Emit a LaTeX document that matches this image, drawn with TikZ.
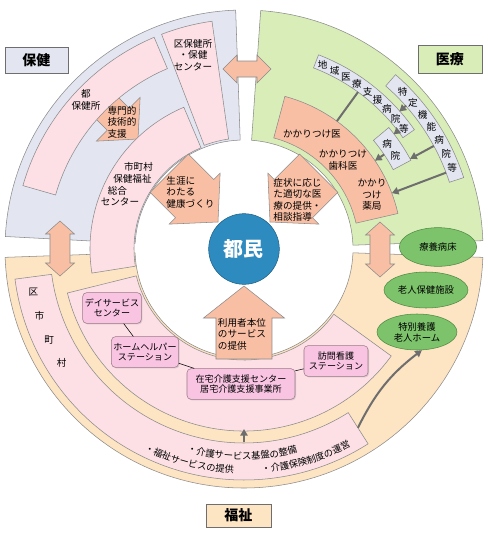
\documentclass[tikz,border=0pt]{standalone}
\usepackage{fontspec}
\setmainfont{Noto Sans CJK JP}
\usetikzlibrary{shapes.geometric,arrows.meta,shadows,decorations.text}
\definecolor{hokenbg}{HTML}{E3E6F1}
\definecolor{iryobg}{HTML}{D9EDB8}
\definecolor{fukushibg}{HTML}{FDE4C2}
\definecolor{pinkband}{HTML}{FCE0E6}
\definecolor{salmon}{HTML}{F9BFA4}
\definecolor{svcpink}{HTML}{F8C4E2}
\definecolor{svcedge}{HTML}{9A7B86}
\definecolor{facgreen}{HTML}{7CC36B}
\definecolor{facedge}{HTML}{4F8A43}
\definecolor{tominblue}{HTML}{2E8BC0}
\definecolor{tominedge}{HTML}{1F5F85}
\definecolor{edgegray}{HTML}{8A8A8A}
\definecolor{linkgray}{HTML}{6E6E6E}
\tikzset{
  zone/.style={draw=edgegray,line width=0.4pt,fill=#1},
  barrow/.style={draw=edgegray,line width=0.4pt,fill=salmon},
  lbl/.style={inner sep=0pt,align=center},
  lblbox/.style={rectangle,draw=edgegray!80!black,fill=#1,inner sep=0pt,
                 font=\fontsize{10.5}{12}\selectfont\bfseries,
                 drop shadow={shadow xshift=1pt,shadow yshift=-1pt,opacity=0.3}},
  svcbox/.style={rectangle,rounded corners=3pt,draw=svcedge,fill=svcpink,
                 align=center,inner sep=1.5pt,minimum height=23pt,
                 font=\fontsize{6.8}{8}\selectfont,
                 drop shadow={shadow xshift=0.8pt,shadow yshift=-0.8pt,opacity=0.25}},
  facil/.style={ellipse,draw=facedge,fill=facgreen,align=center,inner sep=0pt,
                font=\fontsize{7}{8.4}\selectfont},
  tominc/.style={circle,draw=tominedge,fill=tominblue,minimum size=53pt,
                 inner sep=0pt,text=white,font=\fontsize{15}{18}\selectfont\bfseries},
  refline/.style={line width=1.5pt,draw=linkgray},
  refarr/.style={refline,-{Triangle[length=5pt,width=5.5pt]}},
}
% annular piece: start angle, end angle, inner r, outer r
\newcommand\ringpart[4]{(#1:#3) -- (#1:#4) arc[start angle=#1,end angle=#2,radius=#4]
  -- (#2:#3) arc[start angle=#2,end angle=#1,radius=#3] -- cycle}
% block arrow: tip, direction, length, shaft width, head width, head length
\newcommand\blkarrow[6]{\draw[barrow,shift={#1},rotate=#2] (0,0) -- (-#6,#5/2)
  -- (-#6,#4/2) -- (-#3,#4/2) -- (-#3,-#4/2) -- (-#6,-#4/2) -- (-#6,-#5/2) -- cycle;}
% double arrow: centre, direction, half length, half shaft, half head, head length
\newcommand\dblarrow[6]{\draw[barrow,shift={#1},rotate=#2] (#3,0) -- ({#3-#6},#5)
  -- ({#3-#6},#4) -- ({-#3+#6},#4) -- ({-#3+#6},#5) -- (-#3,0) -- ({-#3+#6},-#5)
  -- ({-#3+#6},-#4) -- ({#3-#6},-#4) -- ({#3-#6},-#5) -- cycle;}
\newcommand\curvfont{\fontsize{7}{8}\selectfont}

\begin{document}
\begin{tikzpicture}[x=0.75pt,y=0.75pt,font=\fontsize{7.2}{8.6}\selectfont]
  \useasboundingbox (-244,-288) rectangle (244,249);

  % three sectors
  \draw[zone=hokenbg]   \ringpart{92}{177}{109}{239};
  \draw[zone=iryobg]    \ringpart{2}{86}{109}{239};
  \draw[zone=fukushibg] \ringpart{182}{358}{109}{239};

  % health
  \blkarrow{(-106,110)}{-45}{50}{31}{62}{28}
  \draw[zone=pinkband] \ringpart{113}{164}{196}{230};
  \draw[zone=pinkband] \ringpart{98}{111}{111}{230};
  \draw[zone=pinkband] \ringpart{113}{189}{110}{154};

  % medical
  \draw[zone=hokenbg]  \ringpart{35}{69}{194}{208};
  \draw[zone=hokenbg]  \ringpart{18}{49}{216}{231};
  \draw[zone=hokenbg]  \ringpart{28}{40}{169}{189};
  \draw[zone=salmon]   \ringpart{13}{75}{115}{158};

  % welfare
  \draw[zone=pinkband] \ringpart{187.5}{302.5}{194}{231};
  \draw[zone=pinkband] \ringpart{194}{324}{111}{182};

  % arrows between sectors and to the citizens
  \dblarrow{(3,180)}{0}{24}{8}{14}{14}
  \dblarrow{(-184,0.5)}{90}{27.5}{10}{14.5}{13}
  \dblarrow{(136,-0.5)}{90}{27.5}{10}{14.5}{13}
  \blkarrow{(-26,27)}{-45}{69}{54}{72}{33}
  \blkarrow{(26,27)}{225}{69}{54}{72}{33}
  \blkarrow{(0,-37)}{90}{73}{56}{81}{32}

  \node[tominc] (tomin) at (0,0) {都民};

  % section labels
  \node[lblbox=hokenbg,minimum width=47pt,minimum height=19.5pt] (hoken) at (-207.5,189) {保健};
  \node[lblbox=iryobg,minimum width=48pt,minimum height=21pt] (iryo) at (206,190) {医療};
  \node[lblbox=fukushibg,minimum width=49pt,minimum height=17pt] (fukushi) at (-5.5,-266.5) {福祉};

  % health texts
  \node[lbl] (kuhoken) at (-51,194) {区保健所\\・保健\\センター};
  \node[lbl] (tohoken) at (-158,149) {都\\保健所};
  \node[lbl,align=left] (senmon) at (-122,127) {専門的\\技術的\\支援};
  \node[lbl] (smc1) at (-105.5,82) {市町村};
  \node[lbl] (smc2) at (-111.5,70) {保健福祉};
  \node[lbl] (smc3) at (-126.5,58) {総合};
  \node[lbl] (smc4) at (-124,47) {センター};
  \node[lbl,align=left] (shogai) at (-53.5,57) {生涯に\\わたる\\健康づくり};

  % medical texts
  \node[lbl,align=left] (shojo) at (53.5,49) {症状に応じ\\た適切な医\\療の提供・\\相談指導};
  \node[lbl] (kakari1) at (68,115) {かかりつけ医};
  \node[lbl] (kakari2) at (99,89) {かかりつけ\\歯科医};
  \node[lbl] (kakari3) at (128,54) {かかり\\つけ\\薬局};
  \foreach \c [count=\i from 0] in {地,域,医,療,支,援,病,院,等}
    \node[lbl] (chiiki\i) at ({66.8-3.74*\i}:200) {\c};
  \foreach \c [count=\i from 0] in {特,定,機,能,病,院,等}
    \node[lbl] (tokutei\i) at ({44.8-3.92*\i}:223.5) {\c};
  \node[lbl] (byoin0) at (36.4:178) {病};
  \node[lbl] (byoin1) at (31.7:178) {院};

  \coordinate (a0) at (54:194);
  \coordinate (a1) at (54:158);
  \draw[refline] (a0) -- (a1);
  \foreach \n/\a/\ra/\rb in {b/41.5/216.5/207.5, c/37.5/194.5/188.5, d/34/169/158,
                             e/28.5/216/189, f/20.7/216/158}{
    \coordinate (\n0) at (\a:\ra);
    \coordinate (\n1) at (\a:\rb);
    \draw[refarr] (\n0) -- (\n1);
  }

  % welfare texts
  \node[lbl,align=left] (riyo) at (-2,-85) {利用者本位\\のサービス\\の提供};
  \foreach \c/\a [count=\i] in {区/191.5,市/198,町/205,村/212}
    \node[lbl] (kushi\i) at (\a:215) {\c};
  \node[svcbox,minimum width=44pt] (day) at (-132,-59) {デイサービス\\センター};
  \node[svcbox,minimum width=47pt] (helper) at (-99,-103) {ホームヘルパー\\ステーション};
  \node[svcbox,minimum width=81pt] (zaitaku) at (-3,-135) {在宅介護支援センター\\居宅介護支援事業所};
  \node[svcbox,minimum width=48pt] (homon) at (92,-112) {訪問看護\\ステーション};
  \draw[thin] (day) -- (helper);
  \draw[thin] (helper) -- (zaitaku);
  \draw[thin] (zaitaku) -- (homon);

  \node[facil,minimum width=58pt,minimum height=29pt] (ryoyo) at (194,2) {療養病床};
  \node[facil,minimum width=63pt,minimum height=27pt] (roken) at (182,-41) {老人保健施設};
  \node[facil,minimum width=60pt,minimum height=27pt] (tokuyo) at (173,-83) {特別養護\\老人ホーム};

  \path[decorate,decoration={text along path,text align=center,
        text={|\curvfont|・福祉サービスの提供}}]
    (-125:224.6) arc[start angle=-125,end angle=-84,radius=224.6];
  \path[decorate,decoration={text along path,text align=center,
        text={|\curvfont|・介護サービス基盤の整備}}]
    (-112:210.6) arc[start angle=-112,end angle=-69,radius=210.6];
  \path[decorate,decoration={text along path,text align=center,
        text={|\curvfont|・介護保険制度の運営}}]
    (-94:224.6) arc[start angle=-94,end angle=-53,radius=224.6];

  \coordinate (kiban) at (270:193);
  \coordinate (kibantop) at (270:180);
  \draw[refarr] (kiban) -- (kibantop);
  \coordinate (unei) at (-57.5:212);
  \draw[refarr] (unei) to[bend left=13] (tokuyo.-75);
\end{tikzpicture}
\end{document}
